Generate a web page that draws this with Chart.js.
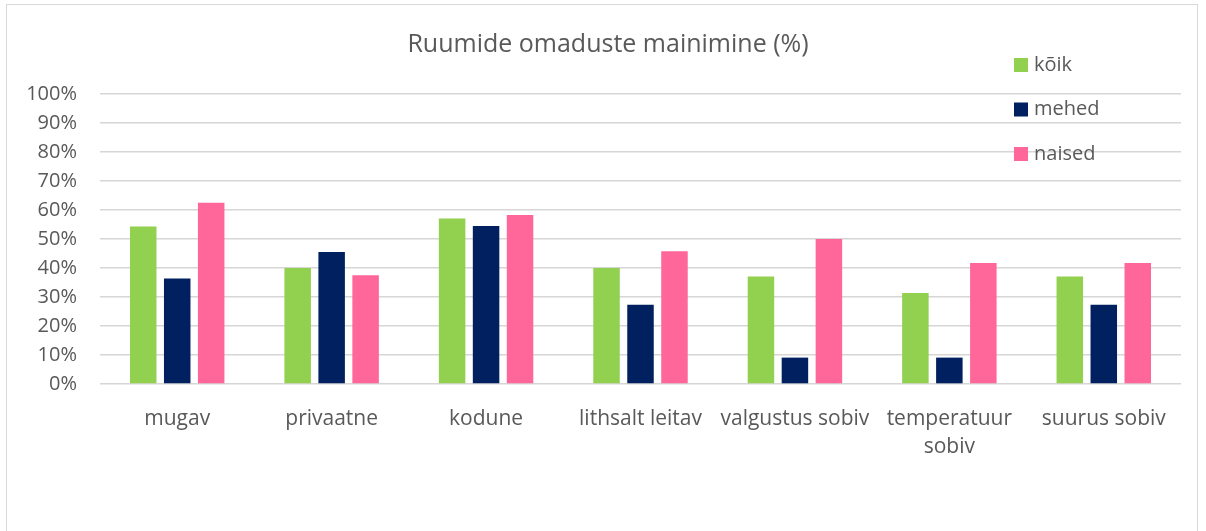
<!DOCTYPE html>
<html>
<head>
<meta charset="utf-8">
<script src="https://cdn.jsdelivr.net/npm/chart.js@4/dist/chart.umd.min.js"></script>
<style>
  html, body { margin: 0; padding: 0; background: #fff; }
  #wrap { position: relative; width: 1206px; height: 531px; overflow: hidden; }
  #frame { position: absolute; left: 6px; top: 4px; width: 1192px; height: 560px; border: 1px solid #d9d9d9; box-sizing: border-box; }
  canvas { position: absolute; left: 0; top: 0; }
</style>
</head>
<body>
<div id="wrap">
  <div id="frame"></div>
  <canvas id="chart" width="1206" height="531"></canvas>
</div>
<script>
// ---------------------------------------------------------------------
// data
// ---------------------------------------------------------------------
const categories = ['mugav', 'privaatne', 'kodune', 'lithsalt leitav', 'valgustus sobiv', ['temperatuur', 'sobiv'], 'suurus sobiv'];
const koik   = [54.3, 40.0, 57.1, 40.0, 37.1, 31.4, 37.1];
const mehed  = [36.4, 45.5, 54.5, 27.3, 9.1, 9.1, 27.3];
const naised = [62.5, 37.5, 58.3, 45.8, 50.0, 41.7, 41.7];
const yTicks = [0, 10, 20, 30, 40, 50, 60, 70, 80, 90, 100];

const chartTitle = 'Ruumide omaduste mainimine (%)';
const textColor = '#595959';
const fontFamily = '"Open Sans", "DejaVu Sans", sans-serif';

// title + legend are drawn by hand so they can sit where the original has them
const decorations = {
    id: 'decorations',
    afterDraw(chart) {
        const ctx = chart.ctx;
        ctx.save();
        ctx.fillStyle = textColor;
        ctx.font = '25px ' + fontFamily;
        ctx.textAlign = 'center';
        ctx.textBaseline = 'middle';
        ctx.fillText(chartTitle, 608, 45);

        ctx.font = '20px ' + fontFamily;
        ctx.textAlign = 'left';
        chart.data.datasets.forEach((ds, i) => {
            const cy = 65 + i * 44.5;
            ctx.fillStyle = ds.backgroundColor;
            ctx.fillRect(1014, cy - 7, 14, 14);
            ctx.fillStyle = textColor;
            ctx.fillText(ds.label, 1034, cy);
        });
        ctx.restore();
    }
};

new Chart(document.getElementById('chart').getContext('2d'), {
    type: 'bar',
    data: {
        labels: categories,
        datasets: [
            { label: 'kõik',   data: koik,   backgroundColor: '#92D050' },
            { label: 'mehed',  data: mehed,  backgroundColor: '#002060' },
            { label: 'naised', data: naised, backgroundColor: '#FF6699' }
        ]
    },
    options: {
        responsive: false,
        animation: false,
        devicePixelRatio: 1,
        layout: { padding: { top: 94, right: 25, bottom: 0, left: 0 } },
        datasets: { bar: { categoryPercentage: 0.66, barPercentage: 0.78 } },
        plugins: {
            legend: { display: false },
            title: { display: false },
            tooltip: { enabled: false }
        },
        scales: {
            x: {
                grid: { display: false },
                border: { display: false },
                ticks: {
                    color: textColor,
                    font: { family: fontFamily, size: 21, lineHeight: 1.333 },
                    padding: 13,
                    maxRotation: 0,
                    autoSkip: false
                },
                afterFit: s => { s.height = 147; }
            },
            y: {
                min: 0,
                max: 100,
                afterBuildTicks: s => { s.ticks = yTicks.map(v => ({ value: v })); },
                grid: { color: '#d6d6d6', lineWidth: 1.4, drawTicks: false },
                border: { display: false },
                ticks: {
                    color: textColor,
                    font: { family: fontFamily, size: 20 },
                    padding: 23,
                    callback: v => v + '%'
                },
                afterFit: s => { s.width = 100; }
            }
        }
    },
    plugins: [decorations]
});
</script>
</body>
</html>
